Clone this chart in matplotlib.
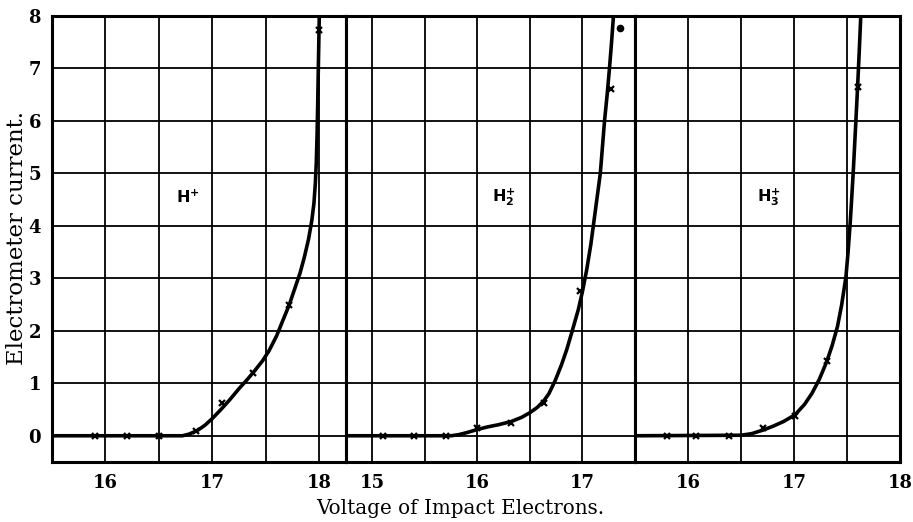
import numpy as np
import matplotlib
matplotlib.use("Agg")
import matplotlib.pyplot as plt
from matplotlib.ticker import MultipleLocator

### Measured points (voltage, electrometer current)
h1_v = [15.9, 16.2, 16.5, 16.85, 17.09, 17.38, 17.72, 18.0]
h1_i = [0, 0, 0, 0.1, 0.62, 1.2, 2.5, 7.74]

h2_v = [15.1, 15.4, 15.7, 16.0, 16.32, 16.63, 16.98, 17.27]
h2_i = [0, 0, 0, 0.15, 0.25, 0.63, 2.75, 6.6]
h2_dot_v = [17.36]
h2_dot_i = [7.78]

h3_v = [15.8, 16.08, 16.39, 16.71, 17.01, 17.31, 17.6]
h3_i = [0, 0, 0, 0.15, 0.38, 1.42, 6.65]

### Hand drawn curves
h1_curve_v = [15.5, 16.72, 16.78, 16.86, 16.93, 17.0, 17.08, 17.16, 17.25, 17.33, 17.4,
              17.47, 17.53, 17.6, 17.66, 17.72, 17.77, 17.82, 17.86, 17.9, 17.93,
              17.95, 17.963, 17.972, 17.979, 17.985, 17.992, 18.0]
h1_curve_i = [0, 0, 0.03, 0.1, 0.2, 0.33, 0.5, 0.68, 0.9, 1.08, 1.25,
              1.43, 1.62, 1.9, 2.2, 2.5, 2.8, 3.1, 3.4, 3.75, 4.1,
              4.43, 4.8, 5.2, 5.7, 6.3, 7.1, 8.0]

h2_curve_v = [14.75, 15.75, 15.82, 15.9, 16.0, 16.1, 16.2, 16.32, 16.42, 16.5, 16.57,
              16.63, 16.68, 16.74, 16.8, 16.85, 16.9, 16.96, 17.0, 17.04, 17.08,
              17.11, 17.14, 17.17, 17.19, 17.21, 17.235, 17.257, 17.277, 17.295]
h2_curve_i = [0, 0, 0.02, 0.06, 0.12, 0.17, 0.21, 0.27, 0.35, 0.44, 0.54,
              0.66, 0.8, 1.05, 1.35, 1.64, 1.98, 2.4, 2.75, 3.16, 3.65,
              4.1, 4.55, 5.0, 5.5, 6.0, 6.5, 7.0, 7.5, 8.0]

h3_curve_v = [15.5, 16.5, 16.6, 16.71, 16.8, 16.9, 17.01, 17.1, 17.17, 17.24, 17.31,
              17.36, 17.41, 17.45, 17.49, 17.51, 17.53, 17.545, 17.56, 17.58, 17.6,
              17.615, 17.63]
h3_curve_i = [0, 0.01, 0.04, 0.11, 0.18, 0.27, 0.4, 0.6, 0.81, 1.08, 1.42,
              1.72, 2.08, 2.5, 3.03, 3.5, 4.05, 4.55, 5.07, 5.85, 6.65,
              7.3, 8.0]

panels = [
    {'lim': (15.5, 18.25), 'ticks': [16, 17, 18], 'pv': h1_v, 'pi': h1_i,
     'cv': h1_curve_v, 'ci': h1_curve_i, 'label': r'$\mathbf{H^{+}}$', 'lx': 16.77},
    {'lim': (14.75, 17.5), 'ticks': [15, 16, 17], 'pv': h2_v, 'pi': h2_i,
     'cv': h2_curve_v, 'ci': h2_curve_i, 'label': r'$\mathbf{H_{2}^{+}}$', 'lx': 16.25},
    {'lim': (15.5, 18.0), 'ticks': [16, 17, 18], 'pv': h3_v, 'pi': h3_i,
     'cv': h3_curve_v, 'ci': h3_curve_i, 'label': r'$\mathbf{H_{3}^{+}}$', 'lx': 16.76},
]

# axes boxes in pixels (left, width)
boxes = [(52, 294), (346, 289), (635, 265)]

W, H = 913, 522
fig = plt.figure(figsize=(W / 100, H / 100), dpi=100)
bottom = 1 - 462 / H
height = (462 - 16) / H

for k, p in enumerate(panels):
    x0, w = boxes[k]
    ax = fig.add_axes([x0 / W, bottom, w / W, height])
    ax.set_xlim(*p['lim'])
    ax.set_ylim(-0.5, 8)

    ax.set_xticks(p['ticks'])
    ax.xaxis.set_minor_locator(MultipleLocator(0.5))
    ax.set_yticks(range(0, 9))
    ax.grid(True, which='both', color='black', linewidth=1.3, zorder=1)
    ax.tick_params(which='both', length=0)
    ax.tick_params(axis='x', pad=9)
    ax.tick_params(axis='y', pad=8)
    for lab in ax.get_xticklabels() + ax.get_yticklabels():
        lab.set_fontfamily('DejaVu Serif')
        lab.set_fontweight('bold')
        lab.set_fontsize(13)
    if k > 0:
        ax.set_yticklabels([])

    for s in ax.spines.values():
        s.set_linewidth(2.2)
        s.set_zorder(4)

    ax.plot(p['cv'], p['ci'], color='black', linewidth=2.6, zorder=3,
            solid_joinstyle='round')
    ax.plot(p['pv'], p['pi'], linestyle='none', marker='x', markersize=5,
            markeredgewidth=1.6, color='black', zorder=3)
    if k == 1:
        ax.plot(h2_dot_v, h2_dot_i, linestyle='none', marker='o', markersize=4.5,
                color='black', zorder=3)

    ax.text(p['lx'], 4.55, p['label'], ha='center', va='center', fontsize=11.5,
            fontfamily='DejaVu Sans', zorder=5,
            bbox=dict(facecolor='white', edgecolor='none', pad=1))

fig.text(460 / W, 1 - 508 / H, 'Voltage of Impact Electrons.', ha='center', va='center',
         fontfamily='DejaVu Serif', fontsize=14.3)
fig.text(17 / W, 1 - 238 / H, 'Electrometer current.', ha='center', va='center',
         rotation=90, fontfamily='DejaVu Serif', fontsize=16.5)

fig.savefig('out.png', dpi=100)
